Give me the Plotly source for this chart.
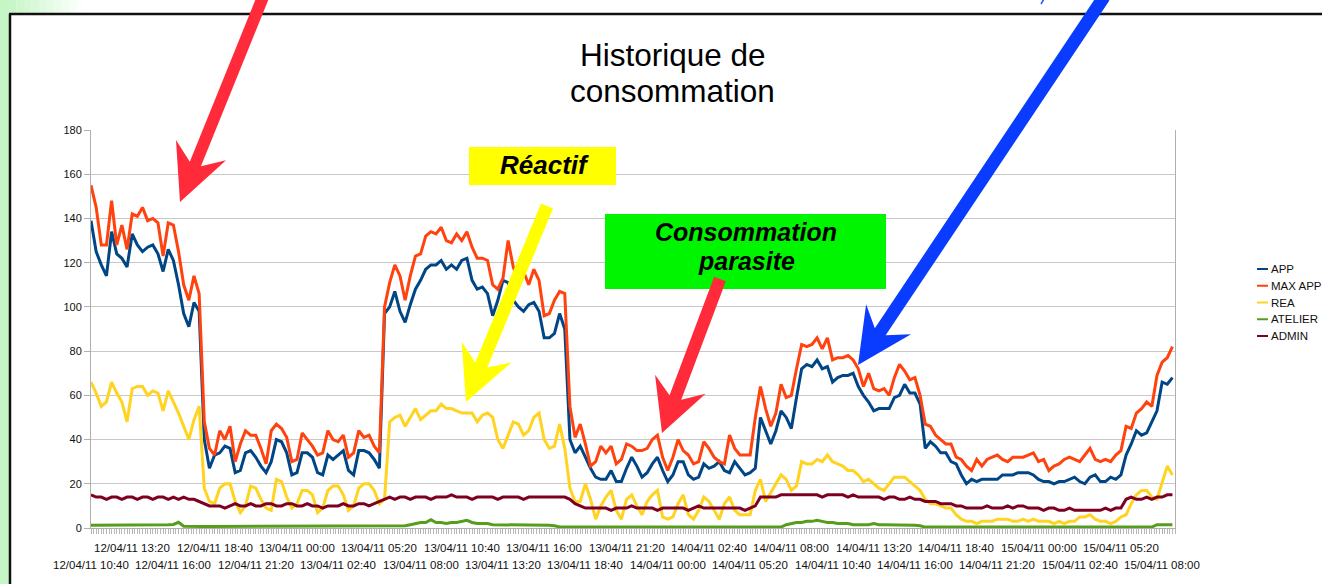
import math
import pandas as pd
import plotly.graph_objects as go

# ---------------- data ----------------
START = "2011-04-12 10:40"
STEP = "20min"

series_names = ["APP", "MAX APP", "REA", "ATELIER", "ADMIN"]
series_colors = ["#004586", "#ff420e", "#ffd320", "#579d1c", "#7e0021"]

app = [
    139, 125, 119, 114, 134, 124, 122, 118, 133, 128,
    125, 127, 128, 124, 116, 126, 121, 110, 97, 91,
    102, 98, 40, 27, 33, 34, 37, 36, 25, 26,
    34, 35, 32, 28, 25, 30, 40, 39, 34, 24,
    25, 34, 34, 32, 25, 24, 33, 31, 33, 35,
    26, 24, 35, 35, 34, 31, 27, 97, 100, 107,
    98, 93, 101, 108, 112, 117, 119, 119, 121, 117,
    119, 117, 121, 122, 112, 108, 109, 106, 96, 103,
    112, 111, 103, 100, 98, 101, 102, 98, 86, 86,
    88, 97, 90, 40, 34, 37, 32, 27, 23, 22,
    22, 26, 21, 21, 27, 32, 28, 23, 25, 29,
    32, 26, 21, 24, 30, 30, 24, 22, 23, 29,
    27, 28, 30, 26, 25, 30, 27, 24, 25, 27,
    50, 44, 38, 44, 53, 50, 45, 59, 72, 74,
    73, 76, 72, 73, 66, 68, 69, 69, 70, 64,
    60, 57, 53, 54, 54, 54, 59, 60, 65, 61,
    61, 56, 36, 39, 37, 34, 34, 30, 29, 24,
    20, 22, 21, 22, 22, 22, 22, 24, 24, 24,
    25, 25, 25, 24, 22, 21, 21, 20, 21, 21,
    22, 23, 21, 20, 23, 24, 21, 21, 23, 22,
    24, 33, 38, 44, 42, 43, 48, 53, 66, 65,
    68,
]

max_app = [
    155, 145, 128, 128, 148, 128, 137, 126, 142, 141,
    145, 139, 140, 138, 123, 138, 137, 125, 110, 103,
    114, 106, 48, 36, 33, 44, 40, 46, 30, 38,
    44, 42, 42, 36, 29, 44, 47, 45, 41, 30,
    31, 43, 40, 37, 33, 34, 44, 40, 39, 42,
    32, 34, 44, 41, 42, 37, 34, 100, 111, 119,
    114, 103, 114, 123, 124, 132, 134, 133, 136, 130,
    129, 133, 130, 134, 127, 122, 122, 121, 110, 108,
    113, 130, 118, 112, 116, 110, 117, 112, 96, 97,
    103, 107, 106, 55, 41, 47, 38, 28, 30, 37,
    34, 37, 29, 31, 38, 37, 35, 35, 36, 40,
    42, 32, 26, 32, 40, 35, 33, 29, 30, 39,
    36, 32, 30, 29, 42, 36, 33, 33, 33, 50,
    64, 54, 46, 52, 65, 59, 60, 72, 83, 82,
    83, 86, 81, 86, 76, 77, 77, 78, 76, 72,
    64, 70, 63, 62, 63, 60, 68, 74, 71, 67,
    68, 60, 47, 46, 42, 40, 38, 38, 32, 31,
    28, 26, 31, 28, 31, 32, 33, 31, 30, 32,
    32, 32, 33, 34, 30, 31, 26, 28, 29, 31,
    32, 31, 30, 33, 36, 31, 30, 31, 30, 33,
    35, 46, 45, 52, 54, 57, 55, 69, 75, 77,
    82,
]

rea = [
    66, 61, 55, 57, 66, 61, 57, 48, 63, 64,
    64, 60, 62, 61, 53, 62, 57, 52, 46, 40,
    49, 55, 18, 12, 11, 18, 20, 20, 12, 7,
    10, 19, 18, 13, 9, 8, 22, 21, 14, 9,
    11, 17, 17, 15, 7, 9, 17, 19, 19, 15,
    8, 10, 18, 20, 20, 17, 11, 13, 48, 50,
    51, 46, 50, 54, 49, 51, 53, 53, 56, 54,
    54, 53, 52, 52, 52, 48, 51, 52, 50, 40,
    36, 42, 48, 47, 42, 44, 50, 52, 40, 36,
    37, 47, 36, 18, 12, 12, 20, 13, 4, 10,
    14, 17, 8, 4, 13, 15, 10, 6, 12, 15,
    17, 5, 4, 5, 11, 15, 6, 4, 8, 14,
    12, 8, 4, 11, 14, 8, 6, 6, 6, 17,
    22, 12, 16, 20, 24, 22, 17, 19, 30, 29,
    29, 31, 30, 33, 30, 29, 28, 26, 26, 24,
    21, 22, 20, 18, 17, 20, 23, 23, 23, 21,
    19, 17, 13, 11, 11, 10, 9, 9, 6, 4,
    3, 3, 2, 3, 3, 3, 4, 4, 4, 3,
    3, 4, 3, 4, 3, 3, 3, 2, 3, 2,
    3, 3, 5, 5, 6, 4, 3, 3, 2, 3,
    5, 6, 11, 15, 17, 17, 14, 13, 21, 28,
    24,
]

atelier = [
    1.2, 1.2, 1.2, 1.3, 1.3, 1.3, 1.3, 1.3, 1.3, 1.3,
    1.3, 1.3, 1.3, 1.3, 1.3, 1.5, 1.6, 2.6, 0.8, 0.7,
    0.7, 0.7, 0.7, 0.7, 0.7, 0.7, 0.7, 0.7, 0.7, 0.7,
    0.7, 0.7, 0.7, 0.7, 0.7, 0.7, 0.7, 0.7, 0.7, 0.7,
    0.7, 0.7, 0.7, 0.7, 0.7, 0.7, 0.7, 0.7, 0.7, 0.7,
    0.7, 0.7, 0.7, 0.7, 0.7, 0.7, 0.7, 0.7, 0.7, 0.7,
    0.8, 1.0, 1.5, 2.0, 2.5, 2.5, 3.8, 2.5, 2.5, 2.0,
    2.5, 2.5, 3.0, 3.5, 2.5, 2.0, 2.0, 2.0, 1.5, 1.5,
    1.5, 1.5, 1.5, 1.5, 1.5, 1.5, 1.2, 1.2, 1.5, 1.2,
    1.0, 0.5, 0.4, 0.4, 0.4, 0.4, 0.4, 0.4, 0.4, 0.4,
    0.4, 0.4, 0.4, 0.4, 0.4, 0.4, 0.4, 0.4, 0.4, 0.4,
    0.4, 0.4, 0.4, 0.4, 0.4, 0.4, 0.4, 0.4, 0.4, 0.4,
    0.4, 0.4, 0.4, 0.4, 0.4, 0.4, 0.4, 0.4, 0.4, 0.4,
    0.4, 0.4, 0.4, 0.4, 0.4, 1.5, 2.0, 2.5, 2.5, 3.0,
    3.0, 3.5, 3.0, 2.5, 2.5, 2.0, 2.0, 2.0, 1.5, 1.5,
    1.5, 1.5, 2.0, 1.5, 1.5, 1.5, 1.5, 1.5, 1.5, 1.2,
    1.2, 1.0, 0.4, 0.4, 0.4, 0.4, 0.4, 0.4, 0.4, 0.4,
    0.4, 0.4, 0.4, 0.4, 0.4, 0.4, 0.4, 0.4, 0.4, 0.4,
    0.4, 0.4, 0.4, 0.4, 0.4, 0.4, 0.4, 0.4, 0.4, 0.4,
    0.4, 0.4, 0.4, 0.4, 0.4, 0.4, 0.4, 0.4, 0.4, 0.4,
    0.4, 0.4, 0.4, 0.4, 0.4, 0.4, 0.4, 1.5, 1.5, 1.5,
    1.5,
]

admin = [
    15, 14, 14, 13, 14, 14, 13, 14, 14, 13,
    14, 14, 13, 14, 14, 13, 14, 13, 14, 13,
    13, 12, 11, 10, 10, 10, 9, 10, 11, 10,
    10, 11, 10, 10, 11, 11, 10, 10, 11, 11,
    10, 10, 11, 10, 10, 9, 10, 10, 10, 11,
    10, 10, 11, 11, 10, 11, 12, 13, 14, 13,
    14, 14, 13, 14, 14, 14, 13, 14, 14, 14,
    15, 14, 14, 14, 13, 14, 14, 14, 14, 13,
    14, 14, 14, 14, 13, 14, 14, 14, 14, 14,
    14, 14, 14, 13, 11, 10, 9, 9, 9, 9,
    9, 8, 9, 9, 9, 10, 9, 9, 9, 9,
    8, 9, 9, 9, 9, 9, 8, 9, 10, 9,
    9, 9, 9, 9, 9, 9, 9, 8, 9, 10,
    14, 14, 14, 14, 15, 15, 15, 15, 15, 15,
    15, 15, 14, 15, 15, 15, 15, 14, 15, 14,
    14, 14, 14, 14, 13, 14, 14, 13, 13, 14,
    13, 13, 12, 12, 12, 11, 11, 11, 10, 10,
    9, 9, 9, 9, 10, 9, 9, 9, 10, 9,
    10, 10, 9, 9, 9, 8, 9, 9, 8, 8,
    9, 8, 8, 8, 8, 8, 8, 9, 8, 9,
    9, 13, 14, 13, 13, 14, 13, 14, 14, 15,
    15,
]

tick_times = [
    "2011-04-12 10:40", "2011-04-12 13:20", "2011-04-12 16:00", "2011-04-12 18:40",
    "2011-04-12 21:20", "2011-04-13 00:00", "2011-04-13 02:40", "2011-04-13 05:20",
    "2011-04-13 08:00", "2011-04-13 10:40", "2011-04-13 13:20", "2011-04-13 16:00",
    "2011-04-13 18:40", "2011-04-13 21:20", "2011-04-14 00:00", "2011-04-14 02:40",
    "2011-04-14 05:20", "2011-04-14 08:00", "2011-04-14 10:40", "2011-04-14 13:20",
    "2011-04-14 16:00", "2011-04-14 18:40", "2011-04-14 21:20", "2011-04-15 00:00",
    "2011-04-15 02:40", "2011-04-15 05:20", "2011-04-15 08:00",
]
tick_labels = [
    "12/04/11 10:40", "12/04/11 13:20", "12/04/11 16:00", "12/04/11 18:40",
    "12/04/11 21:20", "13/04/11 00:00", "13/04/11 02:40", "13/04/11 05:20",
    "13/04/11 08:00", "13/04/11 10:40", "13/04/11 13:20", "13/04/11 16:00",
    "13/04/11 18:40", "13/04/11 21:20", "14/04/11 00:00", "14/04/11 02:40",
    "14/04/11 05:20", "14/04/11 08:00", "14/04/11 10:40", "14/04/11 13:20",
    "14/04/11 16:00", "14/04/11 18:40", "14/04/11 21:20", "15/04/11 00:00",
    "15/04/11 02:40", "15/04/11 05:20", "15/04/11 08:00",
]

title_lines = ["Historique de", "consommation"]
box_reactif = "Réactif"
box_parasite = ["Consommation", "parasite"]

# ---------------- figure ----------------
times = pd.date_range(START, periods=len(app), freq=STEP)
x_end = pd.Timestamp(START) + pd.Timedelta(minutes=4210)

W, H = 1322, 584
L, R, T, B = 91, 1175, 130, 528
FONT = "Liberation Sans, Arial, sans-serif"


def px(x):
    return (x - L) / (R - L)


def py(y):
    return (B - y) / (B - T)


fig = go.Figure()
for name, color, vals in zip(series_names, series_colors,
                             [app, max_app, rea, atelier, admin]):
    fig.add_trace(go.Scatter(x=times, y=vals, mode="lines", name=name,
                             line=dict(color=color, width=3),
                             showlegend=False, hoverinfo="skip"))

shapes = []
annotations = []

# left green strip and top-left gradient
shapes.append(dict(type="rect", xref="paper", yref="paper", layer="below",
                   x0=px(0), x1=px(9), y0=py(0), y1=py(H),
                   fillcolor="#c6f6c6", line=dict(width=0)))
steps = 10
for i in range(steps):
    a = 1 - (i + 0.5) / steps
    shapes.append(dict(type="rect", xref="paper", yref="paper", layer="below",
                       x0=px(9 + i * 7.5), x1=px(9 + (i + 1) * 7.5),
                       y0=py(0), y1=py(13),
                       fillcolor="rgba(198,246,198,%.2f)" % a, line=dict(width=0)))

# black frame
shapes.append(dict(type="line", xref="paper", yref="paper",
                   x0=px(9), x1=px(W + 2), y0=py(14), y1=py(14),
                   line=dict(color="#111111", width=2.5)))
shapes.append(dict(type="line", xref="paper", yref="paper",
                   x0=px(10), x1=px(10), y0=py(14), y1=py(H + 2),
                   line=dict(color="#111111", width=2.5)))

# labels boxes
shapes.append(dict(type="rect", xref="paper", yref="paper",
                   x0=px(469), x1=px(616), y0=py(147), y1=py(185),
                   fillcolor="#ffff00", line=dict(width=0)))
shapes.append(dict(type="rect", xref="paper", yref="paper",
                   x0=px(605), x1=px(886), y0=py(214), y1=py(289),
                   fillcolor="#00f600", line=dict(width=0)))


def arrow(tail, tip, w, hl, hw, notch, color):
    dx, dy = tip[0] - tail[0], tip[1] - tail[1]
    n = math.hypot(dx, dy)
    ux, uy = dx / n, dy / n
    nx, ny = -uy, ux
    base = (tip[0] - ux * hl, tip[1] - uy * hl)
    neck = (tip[0] - ux * (hl - notch), tip[1] - uy * (hl - notch))
    pts = [
        (tail[0] + nx * w / 2, tail[1] + ny * w / 2),
        (neck[0] + nx * w / 2, neck[1] + ny * w / 2),
        (base[0] + nx * hw, base[1] + ny * hw),
        tip,
        (base[0] - nx * hw, base[1] - ny * hw),
        (neck[0] - nx * w / 2, neck[1] - ny * w / 2),
        (tail[0] - nx * w / 2, tail[1] - ny * w / 2),
    ]
    path = "M " + " L ".join("%.5f,%.5f" % (px(a), py(b)) for a, b in pts) + " Z"
    return dict(type="path", xref="paper", yref="paper", path=path,
                fillcolor=color, line=dict(width=0))


shapes.append(arrow((263, -3), (180, 202), 12, 56, 27, 15, "#ff2b3b"))
shapes.append(arrow((547, 206), (466, 402), 13, 54, 27, 14, "#ffff00"))
shapes.append(arrow((720, 279), (662, 433), 12.5, 52, 27, 14, "#ff2b3b"))
shapes.append(arrow((1104, -3), (858, 365), 13, 55, 27, 15, "#0a3cff"))
# small cut-off blue mark at top
shapes.append(dict(type="line", xref="paper", yref="paper",
                   x0=px(1044), x1=px(1041), y0=py(-1), y1=py(4),
                   line=dict(color="#2255ff", width=1.5)))

# title
for i, txt in enumerate(title_lines):
    annotations.append(dict(text=txt, xref="paper", yref="paper",
                            x=px(672.5), y=py(55 + 36 * i),
                            xanchor="center", yanchor="middle", showarrow=False,
                            font=dict(family=FONT, size=31.5, color="#000000")))

# box texts
annotations.append(dict(text="<b><i>%s</i></b>" % box_reactif, xref="paper", yref="paper",
                        x=px(544), y=py(165), xanchor="center", yanchor="middle",
                        showarrow=False,
                        font=dict(family=FONT, size=26, color="#000000")))
for i, txt in enumerate(box_parasite):
    annotations.append(dict(text="<b><i>%s</i></b>" % txt, xref="paper", yref="paper",
                            x=px(746), y=py(232 + 28.5 * i), xanchor="center",
                            yanchor="middle", showarrow=False,
                            font=dict(family=FONT, size=25, color="#000000")))

# x tick labels on two alternating rows
for i, (t, lab) in enumerate(zip(tick_times, tick_labels)):
    row_y = 547.5 if i % 2 == 1 else 565
    annotations.append(dict(text=lab, xref="x", yref="paper", x=t, y=py(row_y),
                            xanchor="center", yanchor="middle", showarrow=False,
                            font=dict(family=FONT, size=11.5, color="#111111")))

# custom legend
for i, (name, color) in enumerate(zip(series_names, series_colors)):
    yy = 269 + 16.75 * i
    shapes.append(dict(type="line", xref="paper", yref="paper",
                       x0=px(1257), x1=px(1268), y0=py(yy), y1=py(yy),
                       line=dict(color=color, width=2)))
    annotations.append(dict(text=name, xref="paper", yref="paper",
                            x=px(1268.5), y=py(yy), xanchor="left", yanchor="middle",
                            showarrow=False,
                            font=dict(family=FONT, size=11.5, color="#111111")))

fig.update_layout(
    width=W, height=H,
    margin=dict(l=L, r=W - R, t=T, b=H - B, pad=0),
    paper_bgcolor="#ffffff", plot_bgcolor="#ffffff",
    showlegend=False,
    shapes=shapes, annotations=annotations,
    font=dict(family=FONT, size=11, color="#111111"),
    xaxis=dict(type="date", range=[pd.Timestamp(START), x_end],
               tickvals=tick_times, showticklabels=False,
               ticks="outside", ticklen=5, tickcolor="#b0b0b0",
               minor=dict(ticks="outside", dtick=600000, tick0=START,
                          ticklen=5, tickcolor="#b8b8b8", tickwidth=1,
                          showgrid=False),
               showgrid=False, zeroline=False,
               showline=True, linecolor="#b0b0b0", linewidth=1),
    yaxis=dict(range=[0, 180], dtick=20, tick0=0,
               ticks="outside", ticklen=6, tickcolor="#b0b0b0",
               showgrid=True, gridcolor="#c8c8c8", gridwidth=1,
               zeroline=False, showline=True, linecolor="#b0b0b0",
               linewidth=1, mirror=True,
               tickfont=dict(family=FONT, size=11, color="#111111")),
)

fig.write_html("out.html", config={"displayModeBar": False},
               post_script="document.body.style.margin='0';")
